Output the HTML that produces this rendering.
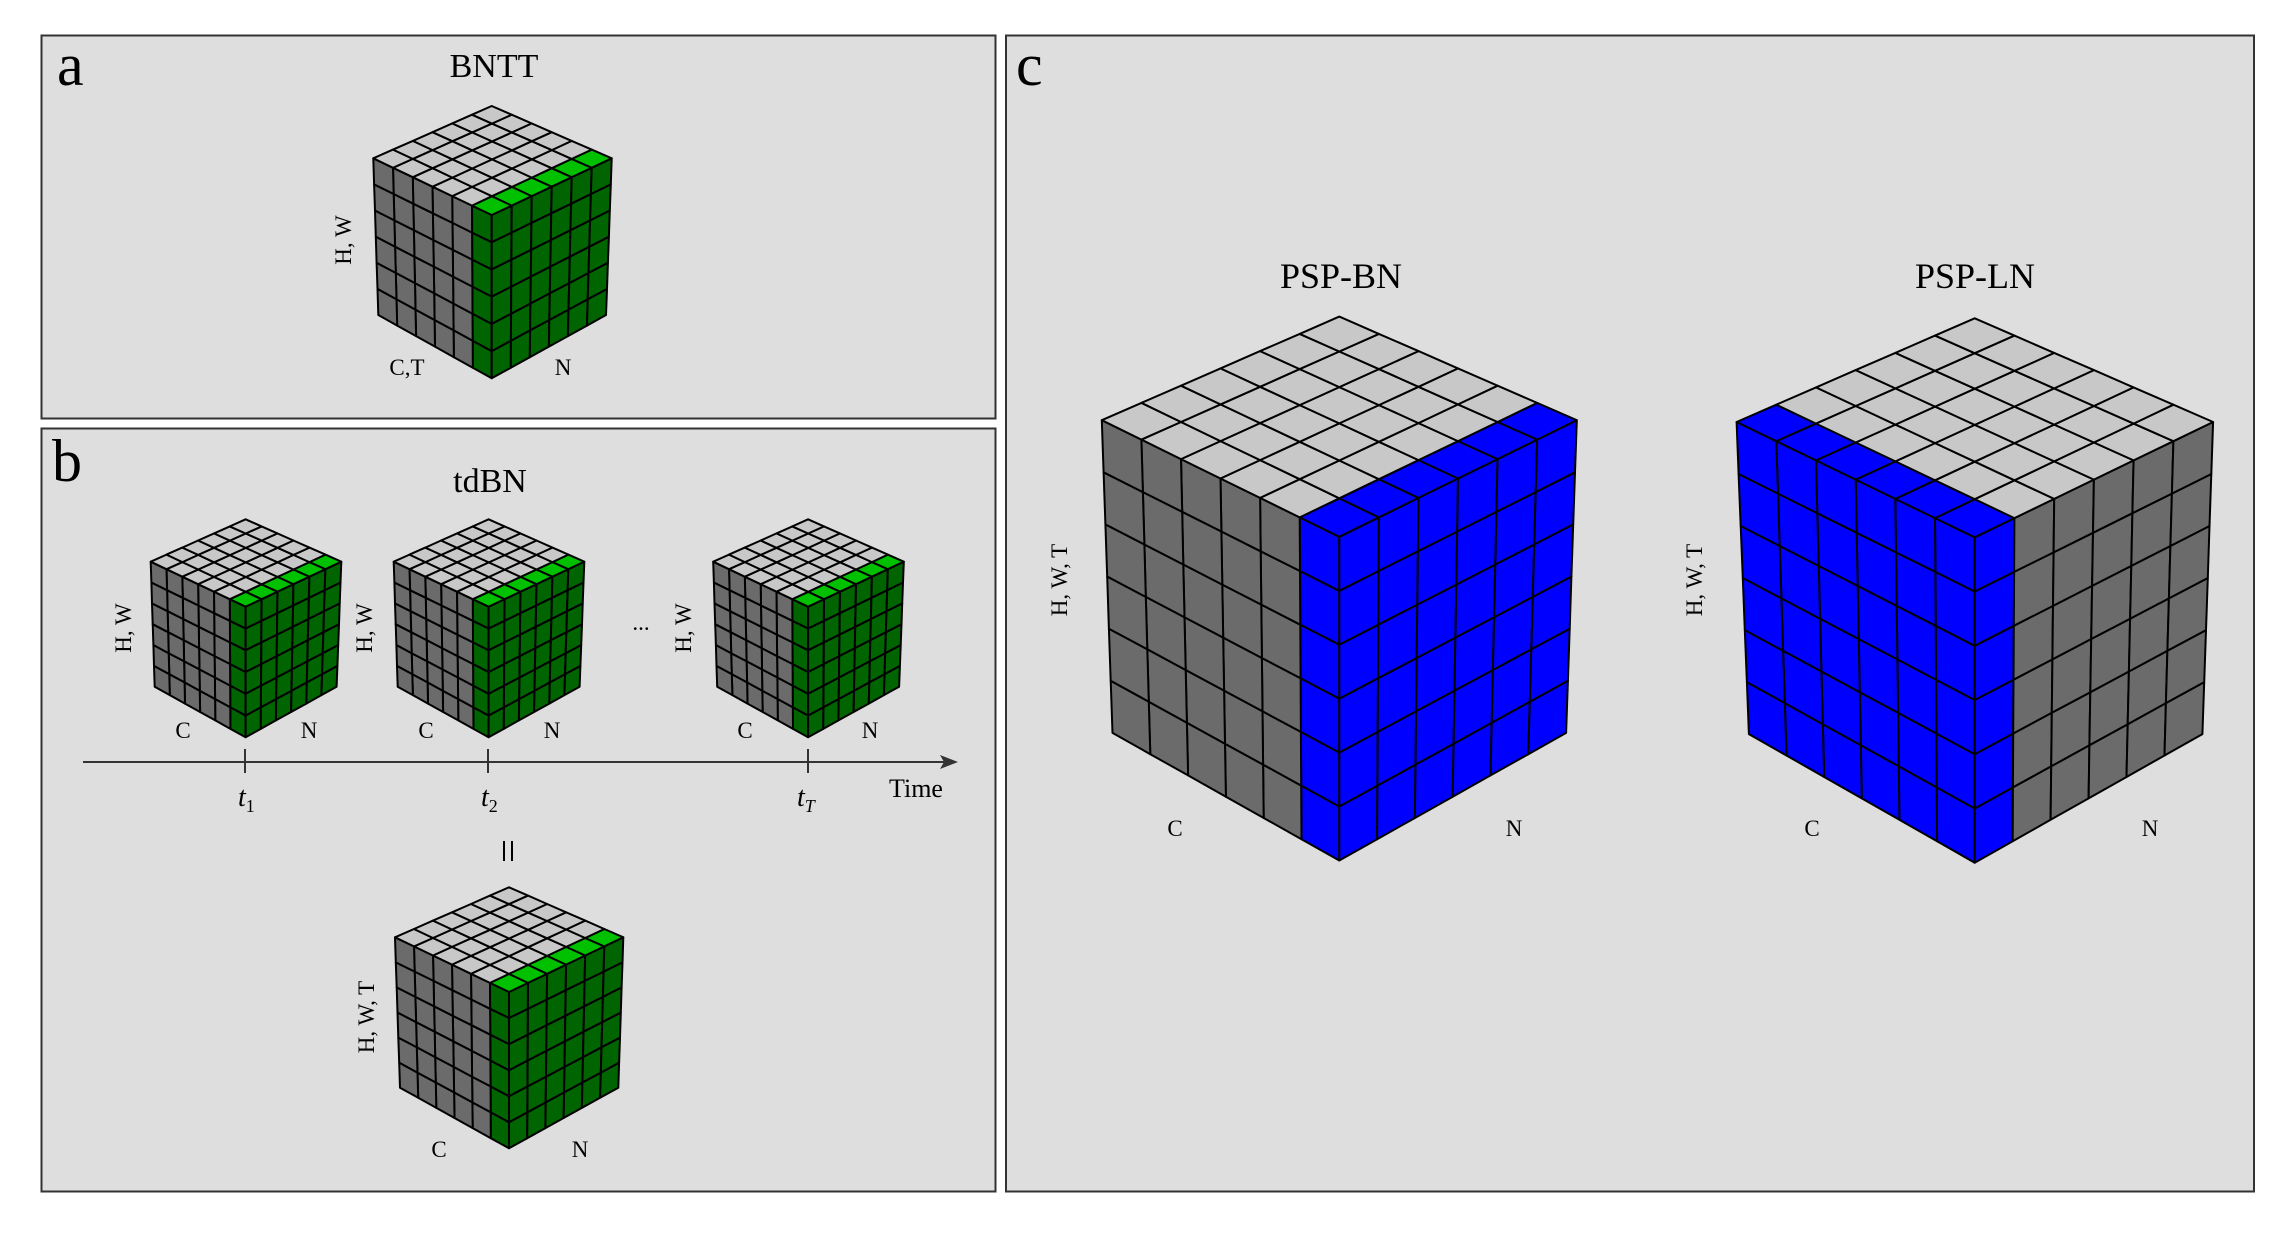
<!DOCTYPE html>
<html><head><meta charset="utf-8"><style>
html,body{margin:0;padding:0;background:#fff;}
svg{display:block;}
text{font-family:"Liberation Serif",serif;fill:#000;}
</style></head><body>
<svg id="s" width="2292" height="1233" viewBox="0 0 2292 1233" xmlns="http://www.w3.org/2000/svg">
<rect x="0" y="0" width="2292" height="1233" fill="#fff"/>
<rect x="41.5" y="35.5" width="954" height="383" fill="#dedede" stroke="#333" stroke-width="2"/>
<rect x="41.5" y="428.5" width="954" height="763" fill="#dedede" stroke="#333" stroke-width="2"/>
<rect x="1006" y="35.5" width="1248" height="1156" fill="#dedede" stroke="#333" stroke-width="2"/>
<text x="57" y="85" font-size="60">a</text>
<text x="52" y="481" font-size="60">b</text>
<text x="1016" y="85" font-size="60">c</text>
<text x="494" y="77" font-size="34" text-anchor="middle">BNTT</text>
<text x="490" y="492" font-size="34" text-anchor="middle">tdBN</text>
<text x="1341" y="288" font-size="36" text-anchor="middle">PSP-BN</text>
<text x="1975" y="288" font-size="36" text-anchor="middle">PSP-LN</text>
<g id="cubes"></g>
<g font-size="23">
<text transform="translate(351,240) rotate(-90)" text-anchor="middle">H, W</text>
<text x="407" y="375" text-anchor="middle">C,T</text>
<text x="563" y="375" text-anchor="middle">N</text>
<text transform="translate(131,628) rotate(-90)" text-anchor="middle">H, W</text>
<text x="183" y="738" text-anchor="middle">C</text>
<text x="309" y="738" text-anchor="middle">N</text>
<text transform="translate(372,628) rotate(-90)" text-anchor="middle">H, W</text>
<text x="426" y="738" text-anchor="middle">C</text>
<text x="552" y="738" text-anchor="middle">N</text>
<text transform="translate(691,628) rotate(-90)" text-anchor="middle">H, W</text>
<text x="745" y="738" text-anchor="middle">C</text>
<text x="870" y="738" text-anchor="middle">N</text>
<text x="641" y="630" text-anchor="middle">...</text>
<text transform="translate(374,1017) rotate(-90)" text-anchor="middle">H, W, T</text>
<text x="439" y="1157" text-anchor="middle">C</text>
<text x="580" y="1157" text-anchor="middle">N</text>
<text transform="translate(1067,580) rotate(-90)" text-anchor="middle">H, W, T</text>
<text x="1175" y="836" text-anchor="middle">C</text>
<text x="1514" y="836" text-anchor="middle">N</text>
<text transform="translate(1702,580) rotate(-90)" text-anchor="middle">H, W, T</text>
<text x="1812" y="836" text-anchor="middle">C</text>
<text x="2150" y="836" text-anchor="middle">N</text>
</g>
<!-- time axis -->
<line x1="83" y1="762" x2="948" y2="762" stroke="#333" stroke-width="2"/>
<path d="M958 762 L940 755 L944 762 L940 769 Z" fill="#333"/>
<line x1="245" y1="749" x2="245" y2="773" stroke="#333" stroke-width="2"/>
<line x1="488" y1="749" x2="488" y2="773" stroke="#333" stroke-width="2"/>
<line x1="808" y1="749" x2="808" y2="773" stroke="#333" stroke-width="2"/>
<g font-size="28" font-style="italic">
<text x="238" y="806">t<tspan font-size="18" font-style="normal" dy="6">1</tspan></text>
<text x="481" y="806">t<tspan font-size="18" font-style="normal" dy="6">2</tspan></text>
<text x="797" y="806">t<tspan font-size="18" dy="6">T</tspan></text>
</g>
<text x="916" y="797" font-size="26" text-anchor="middle">Time</text>
<line x1="504" y1="841" x2="504" y2="861" stroke="#000" stroke-width="2"/>
<line x1="512" y1="841" x2="512" y2="861" stroke="#000" stroke-width="2"/>
</svg>
<script>
(function(){
var g=document.getElementById('cubes');
var out='';
function lerp(a,b,t){return [a[0]+(b[0]-a[0])*t,a[1]+(b[1]-a[1])*t];}
function cube(c,mode,col){
 var F0=c.F0,F1=c.F1,L0=c.L0,L1=c.L1,R0=c.R0,R1=c.R1,B1=c.B1;
 var B0=[L0[0]+R0[0]-F0[0],L0[1]+R0[1]-F0[1]];
 function P(u,v,w){
  var b00=lerp(lerp(F0,L0,u),lerp(R0,B0,u),v);
  var b11=lerp(lerp(F1,L1,u),lerp(R1,B1,u),v);
  return lerp(b00,b11,w);
 }
 function quad(pts,fill){
  out+='<polygon points="'+pts.map(function(p){return p[0].toFixed(1)+','+p[1].toFixed(1);}).join(' ')+'" fill="'+fill+'" stroke="#000" stroke-width="2" stroke-linejoin="round"/>';
 }
 var n=6;
 var greyTop='#c8c8c8',greySide='#6b6b6b';
 for(var i=0;i<n;i++)for(var j=0;j<n;j++){
  var u0=i/n,u1=(i+1)/n,w0=j/n,w1=(j+1)/n;
  var colored=(mode=='C')?(i==0):true;
  quad([P(u0,0,w0),P(u1,0,w0),P(u1,0,w1),P(u0,0,w1)],colored?col.side:greySide);
 }
 for(var i=0;i<n;i++)for(var j=0;j<n;j++){
  var v0=i/n,v1=(i+1)/n,w0=j/n,w1=(j+1)/n;
  var colored=(mode=='C')?true:(i==0);
  quad([P(0,v0,w0),P(0,v1,w0),P(0,v1,w1),P(0,v0,w1)],colored?col.side:greySide);
 }
 for(var a=0;a<n;a++)for(var b=0;b<n;b++){
  var u0=a/n,u1=(a+1)/n,v0=b/n,v1=(b+1)/n;
  var colored=(mode=='C')?(a==0):(b==0);
  quad([P(u0,v0,1),P(u1,v0,1),P(u1,v1,1),P(u0,v1,1)],colored?col.top:greyTop);
 }
}
var green={top:'#00c000',side:'#006400'};
var blue={top:'#0000ff',side:'#0000ff'};
cube({F0:[491.7,378.3],F1:[491.7,215],L0:[378.3,315],L1:[373.3,158.3],R0:[606,315],R1:[611.7,158.3],B1:[491.7,106]},'C',green);
function small(dx){
 return {F0:[245.6+dx,737.3],F1:[245.6+dx,606.7],L0:[154.7+dx,686.7],L1:[150.7+dx,561.7],R0:[336.6+dx,686.7],R1:[341.3+dx,561.7],B1:[245.6+dx,519.3]};
}
cube(small(0),'C',green);
cube(small(243),'C',green);
cube(small(562.5),'C',green);
cube({F0:[509,1148.3],F1:[509,992],L0:[400,1087.7],L1:[395,937.3],R0:[618.3,1087.7],R1:[623.3,937.3],B1:[509,887.3]},'C',green);
cube({F0:[1339.3,860.5],F1:[1339.3,536.8],L0:[1112.5,732.9],L1:[1101.8,420.2],R0:[1566.1,732.9],R1:[1576.8,420.2],B1:[1339.3,316.6]},'C',blue);
cube({F0:[1974.7,862.7],F1:[1974.7,537.3],L0:[1748.9,734.1],L1:[1736.6,422],R0:[2202.4,734.1],R1:[2213.1,422],B1:[1974.7,318.3]},'N',blue);
g.innerHTML=out;
})();
</script>
</body></html>
